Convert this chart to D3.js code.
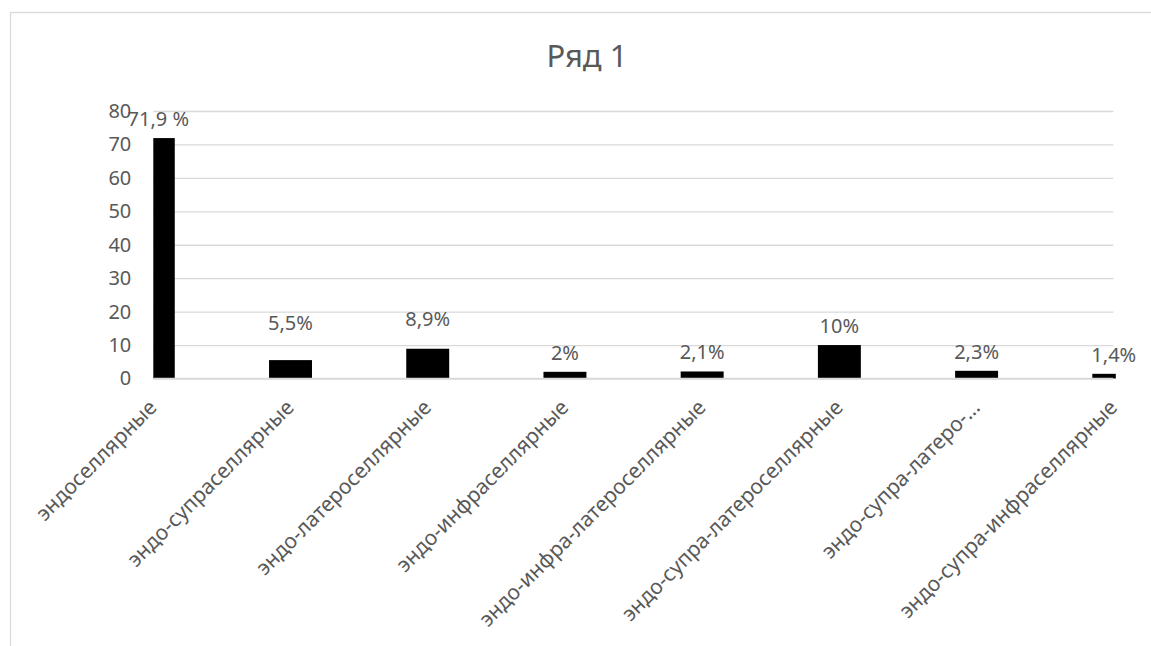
<!DOCTYPE html>
<html lang="ru">
<head>
<meta charset="utf-8">
<script src="https://cdn.jsdelivr.net/npm/d3@7"></script>
<style>
  html, body { margin: 0; padding: 0; background: #ffffff; }
  svg { display: block; font-family: "Noto Sans", "Open Sans", sans-serif; }
</style>
</head>
<body>
<svg id="chart" width="1151" height="646"></svg>
<script>
// Distribution of tumour growth types, percent
const chartTitle = "Ряд 1";
const categories = [
  "эндоселлярные",
  "эндо-супраселлярные",
  "эндо-латероселлярные",
  "эндо-инфраселлярные",
  "эндо-инфра-латероселлярные",
  "эндо-супра-латероселлярные",
  "эндо-супра-латеро-…",
  "эндо-супра-инфраселлярные"
];
const values = [71.9, 5.5, 8.9, 2, 2.1, 10, 2.3, 1.4];
const valueLabels = ["71,9 %", "5,5%", "8,9%", "2%", "2,1%", "10%", "2,3%", "1,4%"];
const yTicks = [0, 10, 20, 30, 40, 50, 60, 70, 80];

// hand-placed data labels (dx, dy in px)
const labelNudge = { 0: [5, 0], 1: [0, -18], 2: [0, -11] };

const svg = d3.select("#chart");
const textColor = "#595959";
const gridColor = "#d9d9d9";

const plot = { left: 153.3, right: 1113.8, top: 111, bottom: 378.5 };

// outer chart frame
svg.append("rect")
  .attr("x", 10.5).attr("y", 12.5)
  .attr("width", 1200).attr("height", 700)
  .attr("fill", "#ffffff")
  .attr("stroke", gridColor).attr("stroke-width", 1.3);

// title
svg.append("text")
  .attr("x", 587).attr("y", 67)
  .attr("text-anchor", "middle")
  .attr("font-size", 31)
  .attr("fill", textColor)
  .text(chartTitle);

const x = d3.scalePoint().domain(categories).range([plot.left, plot.right]);
const y = d3.scaleLinear().domain([0, 80]).range([plot.bottom, plot.top]);
const barWidth = x.step() * 0.313;

// gridlines + y labels via axis
const yAxis = d3.axisLeft(y).tickValues(yTicks).tickSize(-(plot.right - plot.left - 0.5)).tickPadding(22).tickFormat(d3.format("d"));
const gy = svg.append("g")
  .attr("transform", `translate(${plot.left},0)`)
  .call(yAxis);
gy.select(".domain").remove();
gy.selectAll(".tick line").attr("stroke", gridColor).attr("stroke-width", 1.3);
gy.selectAll(".tick text")
  .attr("fill", textColor)
  .attr("font-size", 20)
  .attr("font-family", "Noto Sans, Open Sans, sans-serif");

// bars, clipped to the plot area
svg.append("defs").append("clipPath").attr("id", "plotClip")
  .append("rect")
  .attr("x", plot.left).attr("y", 0)
  .attr("width", plot.right - plot.left + 2).attr("height", plot.bottom + 1);

svg.append("g").attr("clip-path", "url(#plotClip)")
  .selectAll("rect")
  .data(values)
  .join("rect")
  .attr("x", (d, i) => x(categories[i]) - barWidth / 2)
  .attr("y", d => y(d))
  .attr("width", barWidth)
  .attr("height", d => y(0) - y(d))
  .attr("fill", "#000000");

// data labels
svg.append("g")
  .selectAll("text")
  .data(values)
  .join("text")
  .attr("x", (d, i) => x(categories[i]) + (labelNudge[i] ? labelNudge[i][0] : 0))
  .attr("y", (d, i) => y(d) - 12 + (labelNudge[i] ? labelNudge[i][1] : 0))
  .attr("text-anchor", "middle")
  .attr("font-size", 20)
  .attr("fill", textColor)
  .text((d, i) => valueLabels[i]);

// x axis (categories), rotated labels
const xAxis = d3.axisBottom(x).tickSize(0).tickPadding(0);
const gx = svg.append("g")
  .attr("transform", `translate(0,${plot.bottom})`)
  .call(xAxis);
gx.select(".domain").remove();
svg.append("line")
  .attr("x1", plot.left).attr("x2", plot.right - 0.5)
  .attr("y1", plot.bottom).attr("y2", plot.bottom)
  .attr("stroke", gridColor).attr("stroke-width", 1.3);
gx.selectAll(".tick text")
  .attr("fill", textColor)
  .attr("font-size", 21)
  .attr("font-family", "Noto Sans, Open Sans, sans-serif")
  .attr("text-anchor", "end")
  .attr("dy", "0.35em")
  .attr("transform", "translate(-1,25) rotate(-45)");
</script>
</body>
</html>
